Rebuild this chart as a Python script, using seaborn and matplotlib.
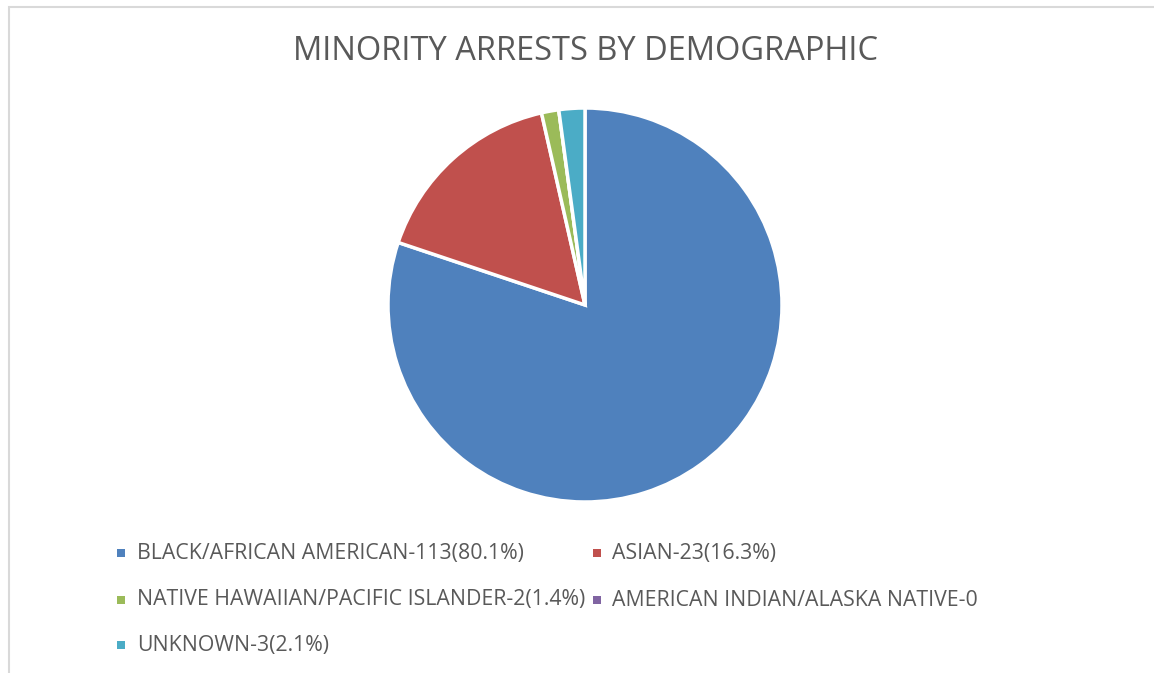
import matplotlib
matplotlib.use("Agg")
import matplotlib.pyplot as plt
from matplotlib.patches import Rectangle
import seaborn as sns

# Arrest counts per demographic group
groups = [
    "BLACK/AFRICAN AMERICAN",
    "ASIAN",
    "NATIVE HAWAIIAN/PACIFIC ISLANDER",
    "AMERICAN INDIAN/ALASKA NATIVE",
    "UNKNOWN",
]
arrests = [113, 23, 2, 0, 3]
legend_labels = [
    "BLACK/AFRICAN AMERICAN-113(80.1%)",
    "ASIAN-23(16.3%)",
    "NATIVE HAWAIIAN/PACIFIC ISLANDER-2(1.4%)",
    "AMERICAN INDIAN/ALASKA NATIVE-0",
    "UNKNOWN-3(2.1%)",
]
slice_colors = ["#4F81BD", "#C0504D", "#9BBB59", "#8064A2", "#4BACC6"]

sns.set_theme(style="white")
plt.rcParams["font.family"] = ["Open Sans", "DejaVu Sans"]

W, H = 1154, 673
fig = plt.figure(figsize=(W / 100, H / 100), dpi=100)
fig.patch.set_facecolor("white")

# light chart-area frame
fig.patches.append(Rectangle((8.5 / W, -0.1), 1.2, 1 - 7.5 / H + 0.1,
                             transform=fig.transFigure, fill=False,
                             edgecolor="#D9D9D9", linewidth=1.5))

# pie axes: centre (585, 305) px, radius 197 px
cx, cy, r = 585, 305, 197
ax = fig.add_axes([(cx - r) / W, (H - cy - r) / H, 2 * r / W, 2 * r / H])
ax.pie(arrests, colors=slice_colors, startangle=90, counterclock=False,
       radius=1.0, wedgeprops=dict(edgecolor="white", linewidth=2.5))
ax.set_xlim(-1.0, 1.0)
ax.set_ylim(-1.0, 1.0)
ax.set_aspect("equal")
ax.axis("off")

fig.text(585 / W, 1 - 51 / H, "MINORITY ARRESTS BY DEMOGRAPHIC",
         ha="center", va="center", fontsize=23.5, color="#595959")

# legend, two columns filled row by row
marker_x = [121, 597]
text_x = [137, 612]
row_y = [553, 600, 645]
sq = 8
for i, (lab, col) in enumerate(zip(legend_labels, slice_colors)):
    rr, cc = divmod(i, 2)
    y = row_y[rr]
    fig.patches.append(Rectangle(((marker_x[cc] - sq / 2) / W, (H - y - sq / 2) / H),
                                 sq / W, sq / H, transform=fig.transFigure,
                                 facecolor=col, edgecolor="none"))
    fig.text(text_x[cc] / W, 1 - y / H, lab, ha="left", va="center",
             fontsize=15.3, color="#595959")

fig.savefig("out.png", dpi=100, facecolor="white")
